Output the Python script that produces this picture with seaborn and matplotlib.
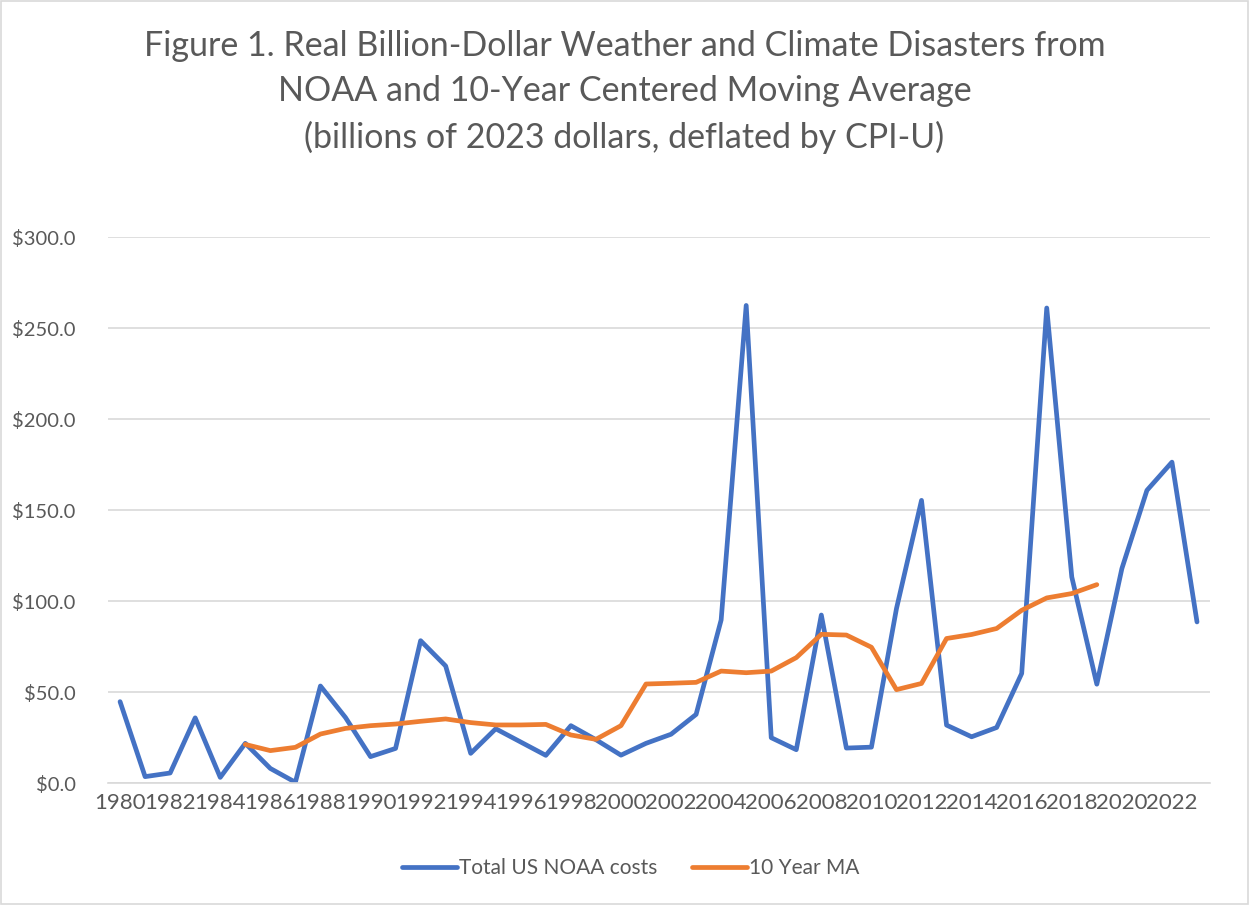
import numpy as np
import pandas as pd
import matplotlib
matplotlib.use("Agg")
import matplotlib.pyplot as plt
import seaborn as sns
from matplotlib.patches import Rectangle

# data (billions of 2023 dollars)
years = list(range(1980, 2024))
noaa_costs = [44.7, 3.5, 5.5, 35.8, 3.1, 21.8, 8.0, 0.4, 53.3, 36.0,
              14.5, 19.0, 78.2, 64.3, 16.3, 29.8, 22.5, 15.2, 31.5, 23.8,
              15.3, 21.8, 26.8, 37.7, 89.6, 262.4, 24.9, 18.3, 92.3, 19.2,
              19.7, 95.8, 155.3, 31.8, 25.4, 30.5, 60.2, 261.0, 113.2, 54.3,
              117.8, 160.8, 176.3, 88.5]
ma_years = list(range(1985, 2020))
ma_values = [21.2, 17.8, 19.6, 26.9, 30.0, 31.5, 32.4, 33.9, 35.2, 33.2,
             31.9, 31.9, 32.2, 26.4, 24.0, 31.5, 54.4, 54.8, 55.3, 61.5,
             60.6, 61.5, 68.9, 81.7, 81.3, 74.6, 51.3, 54.7, 79.4, 81.6,
             84.9, 94.9, 101.7, 104.1, 109.0]
yticks = [0, 50, 100, 150, 200, 250, 300]
xticks = list(range(1980, 2023, 2))

df = pd.concat([
    pd.DataFrame({"Year": years, "Cost": noaa_costs, "Series": "Total US NOAA costs"}),
    pd.DataFrame({"Year": ma_years, "Cost": ma_values, "Series": "10 Year MA"}),
], ignore_index=True)

sns.set_theme(style="white")
plt.rcParams["font.family"] = ["Lato", "DejaVu Sans"]
grey = "#595959"

fig = plt.figure(figsize=(12.49, 9.05), dpi=100)
ax = fig.add_axes([0.0861, 0.1348, 0.8823, 0.6033])

sns.lineplot(data=df, x="Year", y="Cost", hue="Series",
             palette={"Total US NOAA costs": "#4472C4", "10 Year MA": "#ED7D31"},
             linewidth=3.4, ax=ax, legend=False)

ax.set_xlim(1979.5, 2023.5)
ax.set_ylim(0, 300)
ax.set_yticks(yticks)
ax.set_yticklabels([f"${v:.1f}" for v in yticks])
ax.set_xticks(xticks)
ax.set_xticklabels([str(x) for x in xticks])
ax.tick_params(axis="y", colors=grey, labelsize=14.5, length=0, pad=23)
ax.tick_params(axis="x", colors=grey, labelsize=16, length=0, pad=7)
ax.grid(axis="y", color="#D9D9D9", linewidth=1.2)
ax.set_axisbelow(True)
for s in ["top", "right", "left"]:
    ax.spines[s].set_visible(False)
ax.spines["bottom"].set_color("#D9D9D9")
ax.spines["bottom"].set_linewidth(1.2)
ax.set_xlabel("")
ax.set_ylabel("")

fig.text(0.5, 0.967, "Figure 1. Real Billion-Dollar Weather and Climate Disasters from\n"
         "NOAA and 10-Year Centered Moving Average\n"
         "(billions of 2023 dollars, deflated by CPI-U)",
         ha="center", va="top", fontsize=24.5, color=grey, linespacing=1.5)

handles = [plt.Line2D([], [], color="#4472C4", linewidth=3.4),
           plt.Line2D([], [], color="#ED7D31", linewidth=3.4)]
fig.legend(handles, ["Total US NOAA costs", "10 Year MA"], loc="center",
           bbox_to_anchor=(0.505, 0.041), ncol=2, frameon=False, fontsize=15,
           handlelength=2.6, handletextpad=0.1, columnspacing=1.7,
           labelcolor=grey)

fig.patches.append(Rectangle((0.001, 0.001), 0.998, 0.998, transform=fig.transFigure,
                             fill=False, edgecolor="#D9D9D9", linewidth=1.2))

fig.savefig("out.png", dpi=100)
